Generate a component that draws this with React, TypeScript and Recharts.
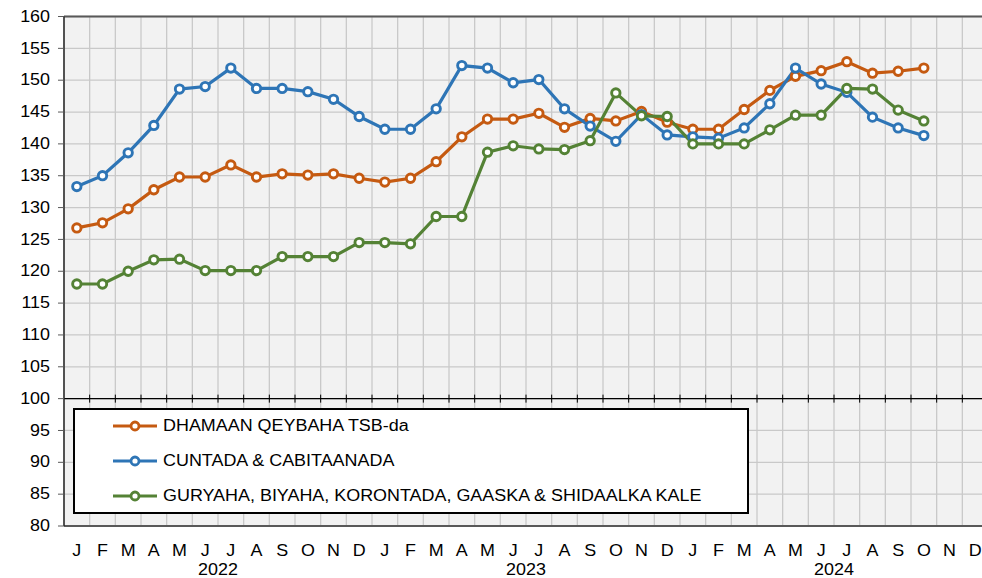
import React from 'react';
import {
  LineChart,
  Line,
  XAxis,
  YAxis,
  CartesianGrid,
  ReferenceLine,
  ReferenceDot,
  Legend,
} from 'recharts';

// ---------- data ----------
const monthLetters = ['J', 'F', 'M', 'A', 'M', 'J', 'J', 'A', 'S', 'O', 'N', 'D'];
const years = ['2022', '2023', '2024'];

const seriesNames = [
  'DHAMAAN QEYBAHA TSB-da',
  'CUNTADA & CABITAANADA',
  'GURYAHA, BIYAHA, KORONTADA, GAASKA & SHIDAALKA KALE',
];

const dhamaan = [
  126.8, 127.6, 129.8, 132.8, 134.8, 134.8, 136.7, 134.8, 135.3, 135.1, 135.3, 134.6,
  134.0, 134.6, 137.2, 141.1, 143.9, 143.9, 144.8, 142.6, 144.0, 143.6, 145.1, 143.4,
  142.3, 142.3, 145.4, 148.4, 150.6, 151.5, 152.9, 151.1, 151.4, 151.9,
];

const cuntada = [
  133.3, 135.0, 138.6, 142.9, 148.6, 149.0, 151.9, 148.7, 148.7, 148.2, 147.0, 144.3,
  142.3, 142.3, 145.5, 152.3, 151.9, 149.6, 150.1, 145.5, 142.8, 140.4, 144.6, 141.4,
  141.1, 140.9, 142.5, 146.3, 151.9, 149.4, 148.1, 144.2, 142.5, 141.3,
];

const guryaha = [
  118.0, 118.0, 120.0, 121.8, 121.9, 120.1, 120.1, 120.1, 122.3, 122.3, 122.3, 124.5,
  124.5, 124.3, 128.6, 128.6, 138.7, 139.7, 139.2, 139.1, 140.5, 148.0, 144.4, 144.3,
  140.0, 140.0, 140.0, 142.2, 144.5, 144.5, 148.7, 148.6, 145.3, 143.6,
];

const yTicks = [80, 85, 90, 95, 100, 105, 110, 115, 120, 125, 130, 135, 140, 145, 150, 155, 160];

// ---------- derived table ----------
const months = years.flatMap(() => monthLetters);
const data = months.map((m, i) => ({
  i,
  month: m,
  dhamaan: dhamaan[i],
  cuntada: cuntada[i],
  guryaha: guryaha[i],
}));
const monthTicks = months.map((_, i) => i);
const yearTicks = years.map((_, k) => k * 12 + 5.5);
const boundaryTicks = Array.from({ length: months.length + 1 }, (_, k) => k - 0.5);

// ---------- styles ----------
const FONT = '"Liberation Sans", Arial, sans-serif';
const STRETCH = 1.12;
const COLORS = ['#C55A11', '#2E75B6', '#548235'];
const AXIS = '#595959';

const MonthTick = (p: any) => (
  <g transform={`translate(${p.x},${p.y + 23}) scale(${STRETCH},1)`}>
    <text x={0} y={0} textAnchor="middle" dominantBaseline="central" fontFamily={FONT} fontSize={16} fill="#000">
      {months[p.payload.value]}
    </text>
  </g>
);

const YearTick = (p: any) => {
  const k = yearTicks.indexOf(p.payload.value);
  return (
    <g transform={`translate(${p.x},${p.y + 11}) scale(${STRETCH},1)`}>
      <text x={0} y={0} textAnchor="middle" dominantBaseline="central" fontFamily={FONT} fontSize={16} fill="#000">
        {years[k]}
      </text>
    </g>
  );
};

const YTick = (p: any) => (
  <g transform={`translate(${p.x},${p.y}) scale(${STRETCH},1)`}>
    <text x={0} y={0} textAnchor="end" dominantBaseline="central" fontFamily={FONT} fontSize={16} fill="#000">
      {p.payload.value}
    </text>
  </g>
);

const TickMark = (p: any) => (
  <line x1={p.cx} y1={p.cy - 4} x2={p.cx} y2={p.cy + 4} stroke="#000" strokeWidth={1} />
);

const LegendBox = () => {
  const rowCenters = [16, 50.5, 86];
  return (
    <div
      style={{
        width: '100%',
        height: '100%',
        boxSizing: 'border-box',
        border: '2px solid #000',
        background: '#fff',
        position: 'relative',
        fontFamily: FONT,
      }}
    >
      {seriesNames.map((name, k) => (
        <div
          key={k}
          style={{
            position: 'absolute',
            left: 38,
            top: rowCenters[k] - 10,
            height: 20,
            display: 'flex',
            alignItems: 'center',
            whiteSpace: 'nowrap',
          }}
        >
          <svg width={44} height={14} style={{ display: 'block' }}>
            <line x1={0} y1={7} x2={44} y2={7} stroke={COLORS[k]} strokeWidth={3.2} />
            <circle cx={22} cy={7} r={4} fill="#fff" stroke={COLORS[k]} strokeWidth={2.8} />
          </svg>
          <span
            style={{
              display: 'inline-block',
              marginLeft: 6,
              fontSize: 16,
              color: '#000',
              transform: `scaleX(${STRETCH})`,
              transformOrigin: 'left center',
            }}
          >
            {name}
          </span>
        </div>
      ))}
    </div>
  );
};

export default function App() {
  const keys = ['dhamaan', 'cuntada', 'guryaha'];
  return (
    <div
      style={{
        position: 'fixed',
        left: 0,
        top: 0,
        width: 982,
        height: 578,
        overflow: 'hidden',
        background: '#fff',
      }}
    >
      <LineChart
        width={1000}
        height={578}
        data={data}
        margin={{ top: 16.5, right: 12, bottom: 0, left: 0 }}
      >
        <CartesianGrid
          xAxisId="c_grid"
          fill="#F2F2F2"
          stroke="#C9C9C9"
          strokeWidth={1.3}
          vertical
          horizontal
        />
        <XAxis
          xAxisId="a_month"
          dataKey="i"
          type="number"
          domain={[-0.5, 35.5]}
          ticks={monthTicks}
          interval={0}
          tickSize={0}
          tickLine={false}
          axisLine={{ stroke: AXIS, strokeWidth: 2 }}
          height={31}
          tick={<MonthTick />}
          allowDataOverflow
        />
        <XAxis
          xAxisId="b_year"
          dataKey="i"
          type="number"
          domain={[-0.5, 35.5]}
          ticks={yearTicks}
          interval={0}
          tickSize={0}
          tickLine={false}
          axisLine={false}
          height={21}
          tick={<YearTick />}
          allowDataOverflow
        />
        <XAxis
          xAxisId="c_grid"
          dataKey="i"
          type="number"
          domain={[-0.5, 35.5]}
          ticks={boundaryTicks}
          interval={0}
          height={0}
          hide
          allowDataOverflow
        />
        <YAxis
          domain={[80, 160]}
          ticks={yTicks}
          interval={0}
          width={64}
          tickSize={6}
          tickMargin={8}
          tickLine={{ stroke: AXIS, strokeWidth: 1 }}
          axisLine={{ stroke: '#262626', strokeWidth: 1.5 }}
          tick={<YTick />}
        />
        <ReferenceLine xAxisId="a_month" y={160} stroke={AXIS} strokeWidth={2} />
        <ReferenceLine xAxisId="a_month" y={100} stroke="#000" strokeWidth={1.2} />
        {boundaryTicks.slice(1).map((b) => (
          <ReferenceDot
            key={b}
            xAxisId="c_grid"
            x={b}
            y={100}
            r={4}
            shape={<TickMark />}
            ifOverflow="visible"
          />
        ))}
        {keys.map((k, idx) => (
          <Line
            key={k}
            xAxisId="a_month"
            type="linear"
            dataKey={k}
            name={seriesNames[idx]}
            stroke={COLORS[idx]}
            strokeWidth={3.2}
            dot={{ r: 4.2, fill: '#fff', stroke: COLORS[idx], strokeWidth: 2.9 }}
            activeDot={false}
            isAnimationActive={false}
          />
        ))}
        <Legend
          layout="horizontal"
          verticalAlign="middle"
          align="center"
          wrapperStyle={{ left: 73, top: 408, width: 676, height: 106 }}
          content={<LegendBox />}
        />
      </LineChart>
    </div>
  );
}
